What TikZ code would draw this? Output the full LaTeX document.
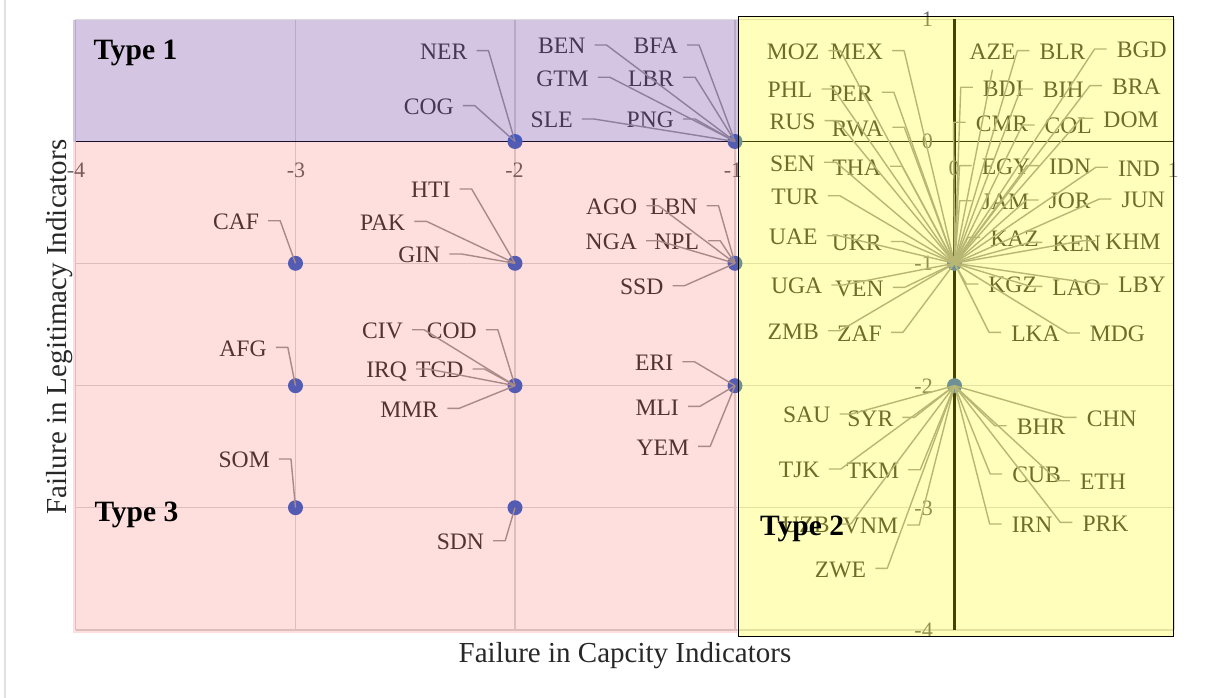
\documentclass[tikz,border=0pt]{standalone}
\usepackage{fontspec}
\setmainfont{Liberation Serif}
\definecolor{txt}{RGB}{58,58,58}
\definecolor{tickc}{RGB}{105,105,105}
\definecolor{gridc}{RGB}{218,218,218}
\definecolor{conc}{RGB}{158,158,158}
\definecolor{dotc}{RGB}{58,106,205}
\definecolor{typeone}{RGB}{102,51,153}
\definecolor{typethree}{RGB}{255,0,0}
\definecolor{typetwo}{RGB}{255,255,0}
\definecolor{titlec}{RGB}{40,40,40}
\tikzset{
  lbl/.style={font=\fontsize{23.6}{28}\selectfont, text=txt, inner sep=0pt,
              text height=15.6pt, text depth=0pt},
  conn/.style={draw=conc, line width=1.4pt, line join=round},
  dot/.style={circle, fill=dotc, minimum size=15pt, inner sep=0pt},
  ticklbl/.style={font=\fontsize{22}{26}\selectfont, text=tickc, inner sep=0pt,
                  text height=14.9pt, text depth=0pt},
  gridline/.style={draw=gridc, line width=1.5pt},
  typelbl/.style={font=\bfseries\fontsize{29.5}{34}\selectfont, inner sep=0pt,
                  anchor=base west},
  axtitle/.style={font=\fontsize{29}{34}\selectfont, text=titlec, inner sep=0pt,
                  anchor=base},
}
% label on the left of its point: stub leaves the right end of the text
\newcommand\lconn[2]{\draw[conn] ([xshift=9pt,yshift=1pt]#1.east) -- ++(12,0) -- (#2.center);}
% label on the right of its point: stub leaves the left end of the text
\newcommand\rconn[2]{\draw[conn] ([xshift=-10pt,yshift=1pt]#1.west) -- ++(-12,0) -- (#2.center);}
\begin{document}
\begin{tikzpicture}[x=1pt,y=-1pt]
\useasboundingbox (0,0) rectangle (1208,698);
\fill[white] (0,0) rectangle (1208,698);
\draw[draw=gridc!80, line width=2pt] (5,0) -- (5,698);

% grid
\foreach \gx in {75.5,295.5,515,735,1174}
  {\draw[gridline] (\gx,19.5) -- (\gx,630);}
\foreach \gy in {19.5,263.3,385.7,507.7,630}
  {\draw[gridline] (75.5,\gy) -- (1174,\gy);}

% zero lines
\draw[black, line width=1.5pt] (75.5,141.5) -- (1174,141.5);
\draw[black, line width=2.2pt] (954.5,19.5) -- (954.5,630);

% tick labels
\node[ticklbl] (xm4) at (76,170) {-4};
\node[ticklbl] (xm3) at (296,170) {-3};
\node[ticklbl] (xm2) at (514.5,170) {-2};
\node[ticklbl] (xm1) at (733,170) {-1};
\node[ticklbl] (xz) at (954,168.5) {0};
\node[ticklbl] (xp1) at (1173,170) {1};
\node[ticklbl, anchor=east] (yp1) at (933,19.5) {1};
\node[ticklbl, anchor=east] (yz) at (933,141.5) {0};
\node[ticklbl, anchor=east] (ym1) at (933,263.3) {-1};
\node[ticklbl, anchor=east] (ym2) at (933,385.7) {-2};
\node[ticklbl, anchor=east] (ym3) at (933,507.7) {-3};
\node[ticklbl, anchor=east] (ym4) at (933,630) {-4};

% data points
\node[dot] (dA) at (515,141.5) {};
\node[dot] (dB) at (735,141.5) {};
\node[dot] (dC) at (295.5,263.3) {};
\node[dot] (dD) at (515,263.3) {};
\node[dot] (dE) at (735,263.3) {};
\node[dot] (dF) at (295.5,385.7) {};
\node[dot] (dG) at (515,385.7) {};
\node[dot] (dH) at (735,385.7) {};
\node[dot] (dI) at (295.5,507.7) {};
\node[dot] (dJ) at (515,507.7) {};
\node[dot] (dK) at (954.5,263.3) {};
\node[dot] (dL) at (954.5,385.7) {};

% country labels
\node[lbl] (NER) at (443.7,51.7) {NER};
\node[lbl] (COG) at (428.7,106.7) {COG};
\node[lbl] (BEN) at (561.7,46) {BEN};
\node[lbl] (BFA) at (655.8,46) {BFA};
\node[lbl] (GTM) at (562.5,78.3) {GTM};
\node[lbl] (LBR) at (651,78.3) {LBR};
\node[lbl] (SLE) at (551.7,120) {SLE};
\node[lbl] (PNG) at (650.3,120) {PNG};
\node[lbl] (CAF) at (236,221.7) {CAF};
\node[lbl] (HTI) at (430.8,190) {HTI};
\node[lbl] (PAK) at (382.7,222.3) {PAK};
\node[lbl] (GIN) at (419.3,255) {GIN};
\node[lbl] (AGO) at (611.7,206.7) {AGO};
\node[lbl] (LBN) at (673.7,206.7) {LBN};
\node[lbl] (NGA) at (611.3,241.7) {NGA};
\node[lbl] (NPL) at (676.7,241.7) {NPL};
\node[lbl] (SSD) at (641.7,286.7) {SSD};
\node[lbl] (AFG) at (243,348.3) {AFG};
\node[lbl] (CIV) at (382.5,330.7) {CIV};
\node[lbl] (COD) at (451.7,330.7) {COD};
\node[lbl] (IRQ) at (386.7,370) {IRQ};
\node[lbl] (TCD) at (439.7,370) {TCD};
\node[lbl] (MMR) at (409.2,409.3) {MMR};
\node[lbl] (ERI) at (654.2,362.7) {ERI};
\node[lbl] (MLI) at (657.2,407.3) {MLI};
\node[lbl] (YEM) at (662.8,447.3) {YEM};
\node[lbl] (SOM) at (244.2,460) {SOM};
\node[lbl] (SDN) at (460.4,541.7) {SDN};

\node[lbl] (MOZ) at (793,51.7) {MOZ};
\node[lbl] (MEX) at (856.7,51.7) {MEX};
\node[lbl] (PHL) at (790,90) {PHL};
\node[lbl] (PER) at (851,93.3) {PER};
\node[lbl] (RUS) at (792.5,121.7) {RUS};
\node[lbl] (RWA) at (857.5,128.3) {RWA};
\node[lbl] (SEN) at (792.5,163.3) {SEN};
\node[lbl] (THA) at (856.7,167.3) {THA};
\node[lbl] (TUR) at (795,196.7) {TUR};
\node[lbl] (UAE) at (793.3,236.7) {UAE};
\node[lbl] (UKR) at (856.7,242.5) {UKR};
\node[lbl] (UGA) at (796.7,286) {UGA};
\node[lbl] (VEN) at (859.3,288.3) {VEN};
\node[lbl] (ZMB) at (793.3,331.7) {ZMB};
\node[lbl] (ZAF) at (859.5,333.3) {ZAF};

\node[lbl] (AZE) at (992.5,51.7) {AZE};
\node[lbl] (BLR) at (1062.5,51.7) {BLR};
\node[lbl] (BGD) at (1141.7,50) {BGD};
\node[lbl] (BDI) at (1003.3,88.3) {BDI};
\node[lbl] (BIH) at (1063.3,90) {BIH};
\node[lbl] (BRA) at (1136.3,86.7) {BRA};
\node[lbl] (CMR) at (1002,123.3) {CMR};
\node[lbl] (COL) at (1068.3,126) {COL};
\node[lbl] (DOM) at (1131,119.3) {DOM};
\node[lbl] (EGY) at (1006,166.7) {EGY};
\node[lbl] (IDN) at (1070,166.7) {IDN};
\node[lbl] (IND) at (1139,168.3) {IND};
\node[lbl] (JAM) at (1005.5,201.7) {JAM};
\node[lbl] (JOR) at (1069.7,201) {JOR};
\node[lbl] (JUN) at (1143.3,200) {JUN};
\node[lbl] (KAZ) at (1014.5,238.3) {KAZ};
\node[lbl] (KEN) at (1076.7,243.3) {KEN};
\node[lbl] (KHM) at (1133,241.7) {KHM};
\node[lbl] (KGZ) at (1012.7,285) {KGZ};
\node[lbl] (LAO) at (1076.7,287.3) {LAO};
\node[lbl] (LBY) at (1142,285) {LBY};
\node[lbl] (LKA) at (1035.5,333.3) {LKA};
\node[lbl] (MDG) at (1117.5,334) {MDG};

\node[lbl] (SAU) at (806.7,415) {SAU};
\node[lbl] (SYR) at (870.3,418.3) {SYR};
\node[lbl] (TJK) at (799.3,470) {TJK};
\node[lbl] (TKM) at (872.8,470.7) {TKM};
\node[lbl] (UZB) at (806,525) {UZB};
\node[lbl] (VNM) at (870.5,526) {VNM};
\node[lbl] (ZWE) at (840.5,569.3) {ZWE};
\node[lbl] (BHR) at (1041.2,426.7) {BHR};
\node[lbl] (CHN) at (1111.7,418.3) {CHN};
\node[lbl] (CUB) at (1036.7,475) {CUB};
\node[lbl] (ETH) at (1103,481.7) {ETH};
\node[lbl] (IRN) at (1032.2,525) {IRN};
\node[lbl] (PRK) at (1105.5,523.3) {PRK};

% connectors
\foreach \cc in {NER,COG}{\lconn{\cc}{dA}}
\foreach \cc in {BEN,BFA,GTM,LBR,SLE,PNG}{\lconn{\cc}{dB}}
\lconn{CAF}{dC}
\foreach \cc in {HTI,PAK,GIN}{\lconn{\cc}{dD}}
\foreach \cc in {AGO,LBN,NGA,NPL,SSD}{\lconn{\cc}{dE}}
\lconn{AFG}{dF}
\foreach \cc in {CIV,COD,IRQ,TCD,MMR}{\lconn{\cc}{dG}}
\foreach \cc in {ERI,MLI,YEM}{\lconn{\cc}{dH}}
\lconn{SOM}{dI}
\lconn{SDN}{dJ}
\foreach \cc in {MOZ,MEX,PHL,PER,RUS,RWA,SEN,THA,TUR,UAE,UKR,UGA,VEN,ZMB,ZAF}{\lconn{\cc}{dK}}
\draw[conn] ([yshift=-10pt]AZE.south) -- (dK.center);
\foreach \cc in {BLR,BGD,BDI,BIH,BRA,CMR,COL,DOM,EGY,IDN,IND,JAM,JOR,JUN,KAZ,KEN,KHM,KGZ,LAO,LBY,LKA,MDG}{\rconn{\cc}{dK}}
\foreach \cc in {SAU,SYR,TJK,TKM,UZB,VNM,ZWE}{\lconn{\cc}{dL}}
\foreach \cc in {BHR,CHN,CUB,ETH,IRN,PRK}{\rconn{\cc}{dL}}

% shaded regions
\fill[typeone, fill opacity=0.28] (73,20.5) rectangle (738,142);
\fill[typethree, fill opacity=0.13] (73,142) rectangle (737,633);
\fill[typetwo, fill opacity=0.267] (738.3,16.7) rectangle (1173.3,636.7);
\draw[black, line width=1.2pt] (738.3,16.7) rectangle (1173.3,636.7);

\node[typelbl] (type1) at (93.3,60) {Type 1};
\node[typelbl] (type3) at (94.3,521.7) {Type 3};
\node[typelbl] (type2) at (760,535) {Type 2};

% axis titles
\node[axtitle] (xtitle) at (625,662) {Failure in Capcity Indicators};
\node[axtitle, rotate=90] (ytitle) at (66.7,327) {Failure in Legitimacy Indicators};
\end{tikzpicture}
\end{document}
